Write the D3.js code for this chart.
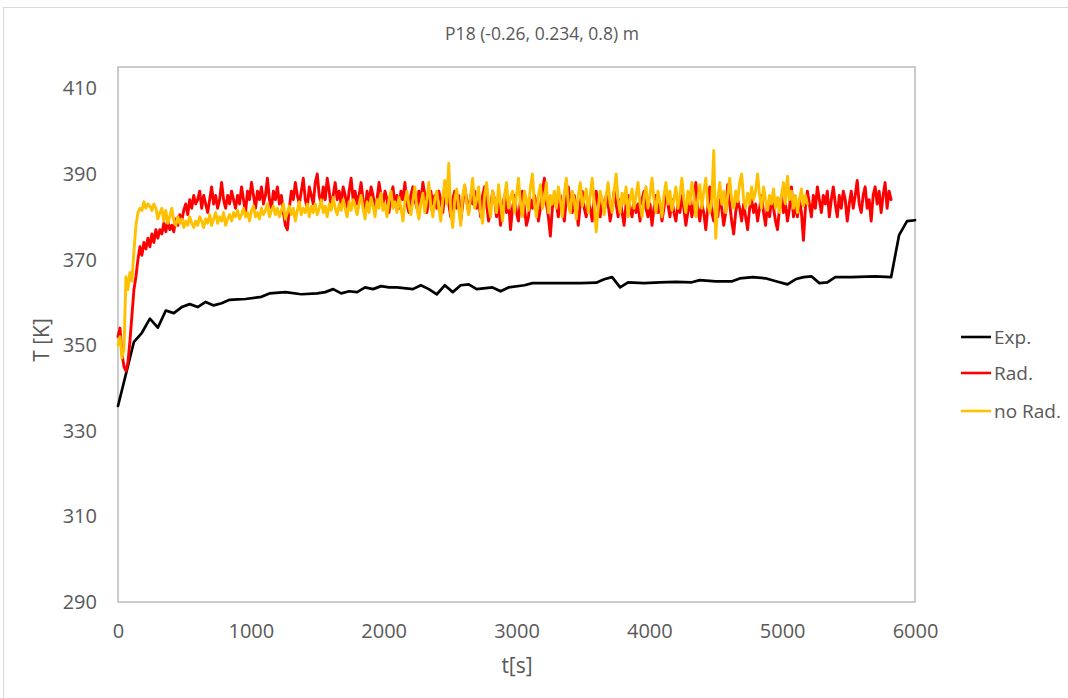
<!DOCTYPE html>
<html>
<head>
<meta charset="utf-8">
<script src="https://cdn.jsdelivr.net/npm/d3@7"></script>
<style>
  html, body { margin: 0; padding: 0; background: #fff; }
  svg { display: block; }
  text { font-family: "Open Sans", "Noto Sans", sans-serif; fill: #595959; }
</style>
</head>
<body>
<svg id="chart" width="1068" height="698"></svg>
<script>
// Measured temperature (Exp.) at probe P18
const expTime = [0, 120, 180, 240, 300, 360, 420, 480, 540, 600, 660, 720, 780, 840, 900, 960, 1080, 1140, 1260, 1380,
  1500, 1560, 1620, 1680, 1740, 1800, 1860, 1920, 1980, 2040, 2100, 2220, 2280, 2340, 2400, 2460, 2520, 2580, 2640, 2700,
  2820, 2880, 2940, 3060, 3120, 3240, 3360, 3480, 3600, 3660, 3720, 3780, 3840, 3960, 4080, 4200, 4320, 4380, 4500, 4620,
  4680, 4780, 4880, 4960, 5040, 5100, 5160, 5220, 5280, 5340, 5400, 5520, 5700, 5820, 5880, 5940, 6000];
const expTemp = [335.8, 350.8, 352.9, 356.2, 354.1, 358.1, 357.5, 358.9, 359.6, 358.9, 360.1, 359.3, 359.8, 360.6, 360.7, 360.8, 361.3, 362.1, 362.4, 361.9,
  362.1, 362.4, 363.1, 362.1, 362.6, 362.4, 363.5, 363.1, 363.8, 363.5, 363.5, 363.1, 364.0, 363.1, 361.9, 364.0, 362.4, 364.0, 364.2, 363.1,
  363.5, 362.6, 363.5, 364.0, 364.5, 364.5, 364.5, 364.5, 364.6, 365.4, 365.9, 363.5, 364.7, 364.5, 364.7, 364.8, 364.7, 365.2, 364.9, 364.9,
  365.6, 365.9, 365.6, 364.9, 364.2, 365.4, 365.9, 366.1, 364.5, 364.7, 365.9, 365.9, 366.1, 365.9, 375.7, 379.0, 379.2];

// Simulation with radiation model (Rad.), sampled every radStep seconds from t = 0
const radStep = 15;
const radTemp = [
  352, 354, 348, 345, 344, 346, 351, 357, 363, 366, 370, 373, 371, 374, 372.5, 375, 373, 376, 374, 377,
  375, 377, 376, 378.5, 376.5, 379, 377, 378, 376.5, 379.5, 378, 380.5, 379, 381.5, 383, 380.5, 384, 382, 385, 383,
  384, 386, 382, 385, 383, 381, 384, 387, 383, 385, 382, 384, 388, 384, 382, 385, 383, 386, 384, 382,
  385, 383, 387, 384, 381, 386, 384, 388, 385, 382, 386, 384, 387, 383, 385, 389, 384, 382, 386, 384,
  387, 383, 385, 381, 378, 377, 382, 386, 384, 388, 385, 383, 386, 389, 384, 382, 387, 385, 383, 388,
  390, 385, 383, 387, 384, 389, 386, 382, 385, 388, 384, 386, 383, 387, 385, 382, 386, 389, 384, 386,
  383, 385, 388, 384, 381, 386, 383, 387, 385, 382, 384, 388, 385, 383, 386, 384, 381, 385, 387, 383,
  385, 382, 386, 384, 388, 383, 381, 385, 387, 384, 382, 386, 383, 388, 385, 381, 384, 386, 383, 385,
  382, 386, 384, 381, 385, 388, 383, 380, 384, 386, 382, 385, 379, 383, 387, 384, 381, 385, 383, 386,
  382, 384, 380, 385, 387, 383, 379, 382, 386, 384, 380, 383, 378, 382, 385, 381, 384, 377, 382, 385,
  381, 379, 384, 386, 382, 378, 380, 384, 382, 385, 383, 379, 382, 386, 389, 383, 380, 375.5, 382, 385,
  383, 380, 385, 382, 379, 384, 387, 383, 381, 385, 382, 378, 383, 386, 382, 380, 384, 382, 379, 384,
  386, 382, 380, 384, 381, 385, 383, 379, 382, 386, 383, 380, 384, 381, 378, 383, 385, 382, 380, 384,
  381, 383, 379, 384, 386, 382, 380, 383, 378, 382, 385, 381, 383, 379, 382, 386, 383, 380, 384, 381,
  379, 383, 381, 385, 382, 378, 381, 384, 380, 383, 388, 382, 379, 383, 381, 377, 382, 387, 381, 379,
  383, 380, 384, 382, 378, 381, 387.5, 383, 379, 376, 381, 384, 382, 379, 383, 380, 377, 382, 384, 381,
  383, 379, 382, 385, 381, 378, 383, 380, 384, 382, 379, 377, 382, 385, 381, 383, 379, 382, 387, 380,
  383, 380, 384, 381, 374.5, 382, 386, 383, 380, 385, 382, 387, 384, 381, 385, 383, 386, 380, 384, 387,
  383, 380, 385, 382, 386, 384, 379, 383, 386, 382, 385, 388.5, 383, 381, 385, 387, 382, 384, 379, 385,
  387, 383, 386, 381, 385, 388, 382, 386, 384
];

// Simulation without radiation model (no Rad.), sampled every noRadStep seconds from t = 0
const noRadStep = 15;
const noRadTemp = [
  350, 352, 347, 349, 366, 363, 367, 365, 372, 378, 381, 382, 381.5, 383.5, 382, 383, 382.5, 381.5, 383, 382,
  379.5, 381, 382, 379, 381.5, 378.5, 380, 382, 379, 378, 380, 378.5, 379.5, 377.5, 379, 378, 380, 378.5, 377.5, 379,
  378, 380, 379, 377.5, 379.5, 378.5, 380.5, 378, 379.5, 381, 378.5, 380, 379, 381, 378, 379.5, 380.5, 379, 381, 380,
  381.5, 379.5, 380.5, 382, 380, 381, 379, 381.5, 382.5, 380, 381, 379.5, 382, 380.5, 381.5, 383, 380, 381.5, 382.5, 380.5,
  382, 380, 381.5, 383, 379.5, 381, 382.5, 380.5, 382, 379, 381.5, 383.5, 380.5, 382, 381, 383, 380, 382.5, 381, 383,
  380.5, 382, 384, 381, 382.5, 380, 383, 381.5, 384.5, 382, 380.5, 383, 381.5, 384, 382, 380, 383.5, 381.5, 384, 382.5,
  380.5, 383, 385, 382, 379.5, 383.5, 381, 384.5, 382.5, 380, 384, 382, 385.5, 381.5, 383, 380, 384, 386, 382, 383.5,
  381, 384.5, 382, 379, 383.5, 386, 382.5, 380.5, 384, 387, 382, 379.5, 383, 385.5, 381, 384, 388, 382.5, 380, 384,
  386, 382, 379, 384, 388.5, 383, 392.5, 381, 377.5, 384, 386.5, 382, 378, 385, 387.5, 383, 380.5, 385, 389, 382,
  384, 387, 381, 378.5, 385, 388, 383, 380, 386, 384, 381, 387.5, 383, 379, 385, 388, 382, 384.5, 386, 381,
  385, 389, 383, 380, 386, 384, 381.5, 387, 390, 383, 380, 385, 387.5, 382, 384, 388, 381, 385, 383, 386,
  382, 387, 384, 380, 385.5, 389, 383, 381, 386, 384, 379.5, 385, 388, 382.5, 384, 386.5, 381, 385, 389, 383,
  376.5, 382, 386, 384, 380.5, 385, 388, 383, 381, 386, 390, 384, 381, 385.5, 383, 387, 380, 384, 386.5, 382,
  385, 388, 383, 380, 384.5, 387, 382, 385, 389, 384, 381, 386, 383.5, 380, 385, 388, 383, 386, 381.5, 384,
  387, 382, 385, 389, 384, 381, 386, 383, 388, 385, 380, 384, 387.5, 382, 386, 389, 383, 381, 384, 395.5,
  375, 384, 388, 383, 386, 381, 385, 389, 384, 382, 386, 383.5, 388, 390, 384, 382, 385.5, 383, 387, 384,
  386, 390, 385, 382, 387, 384, 381.5, 385, 383, 386.5, 382, 384.5, 381, 385, 388, 383, 389.5, 384, 386, 382,
  385, 381, 384, 386.5, 382.5, 385, 383
];

const xTicks = [0, 1000, 2000, 3000, 4000, 5000, 6000];
const yTicks = [290, 310, 330, 350, 370, 390, 410];
const seriesNames = ["Exp.", "Rad.", "no Rad."];
const seriesColors = ["#000000", "#FF0000", "#FFC000"];

const titleText = "P18 (-0.26, 0.234, 0.8) m";
const xTitle = "t[s]";
const yTitle = "T [K]";

// ---- layout ----
const plot = { left: 118, right: 915, top: 67, bottom: 602 };

const svg = d3.select("#chart");

// chart frame
svg.append("rect")
  .attr("x", 3.5).attr("y", 7.5)
  .attr("width", 1100).attr("height", 720)
  .attr("fill", "none").attr("stroke", "#d9d9d9").attr("stroke-width", 1);

const x = d3.scaleLinear().domain([0, 6000]).range([plot.left, plot.right]);
const y = d3.scaleLinear().domain([290, 415]).range([plot.bottom, plot.top]);

// plot area border
svg.append("rect")
  .attr("x", plot.left).attr("y", plot.top)
  .attr("width", plot.right - plot.left).attr("height", plot.bottom - plot.top)
  .attr("fill", "none").attr("stroke", "#b0b0b0").attr("stroke-width", 1.3);

// axes (labels only, no tick marks)
const xAxis = d3.axisBottom(x).tickValues(xTicks).tickSize(0).tickPadding(22).tickFormat(d3.format("d"));
const yAxis = d3.axisLeft(y).tickValues(yTicks).tickSize(0).tickPadding(21).tickFormat(d3.format("d"));

const gx = svg.append("g").attr("transform", `translate(0,${plot.bottom})`).call(xAxis);
const gy = svg.append("g").attr("transform", `translate(${plot.left},0)`).call(yAxis);
[gx, gy].forEach(g => {
  g.select(".domain").remove();
  g.selectAll("text").style("font-size", "20px").attr("fill", "#595959")
    .style("font-family", "'Open Sans', sans-serif");
});

// series
const expData = expTime.map((t, i) => ({ t, v: expTemp[i] }));
const radData = radTemp.map((v, i) => ({ t: i * radStep, v }));
const noRadData = noRadTemp.map((v, i) => ({ t: i * noRadStep, v }));

const line = d3.line().x(d => x(d.t)).y(d => y(d.v));

const gLines = svg.append("g");
[[expData, 0, 2.7], [radData, 1, 2.9], [noRadData, 2, 2.9]].forEach(([data, k, w]) => {
  gLines.append("path")
    .datum(data)
    .attr("d", line)
    .attr("fill", "none")
    .attr("stroke", seriesColors[k])
    .attr("stroke-width", w)
    .attr("stroke-linejoin", "round")
    .attr("stroke-linecap", "round");
});

// title
svg.append("text")
  .attr("x", 542).attr("y", 40)
  .attr("text-anchor", "middle")
  .style("font-size", "17.5px")
  .text(titleText);

// axis titles
svg.append("text")
  .attr("x", 517).attr("y", 673)
  .attr("text-anchor", "middle")
  .style("font-size", "21px")
  .text(xTitle);

svg.append("text")
  .attr("transform", "translate(49,340) rotate(-90)")
  .attr("text-anchor", "middle")
  .style("font-size", "21px")
  .text(yTitle);

// legend
const legendY = [337, 373, 411];
const gLeg = svg.append("g");
seriesNames.forEach((name, i) => {
  gLeg.append("line")
    .attr("x1", 961).attr("x2", 991)
    .attr("y1", legendY[i]).attr("y2", legendY[i])
    .attr("stroke", seriesColors[i]).attr("stroke-width", 2.6);
  gLeg.append("text")
    .attr("x", 994).attr("y", legendY[i] + 7)
    .style("font-size", "19px")
    .text(name);
});
</script>
</body>
</html>
